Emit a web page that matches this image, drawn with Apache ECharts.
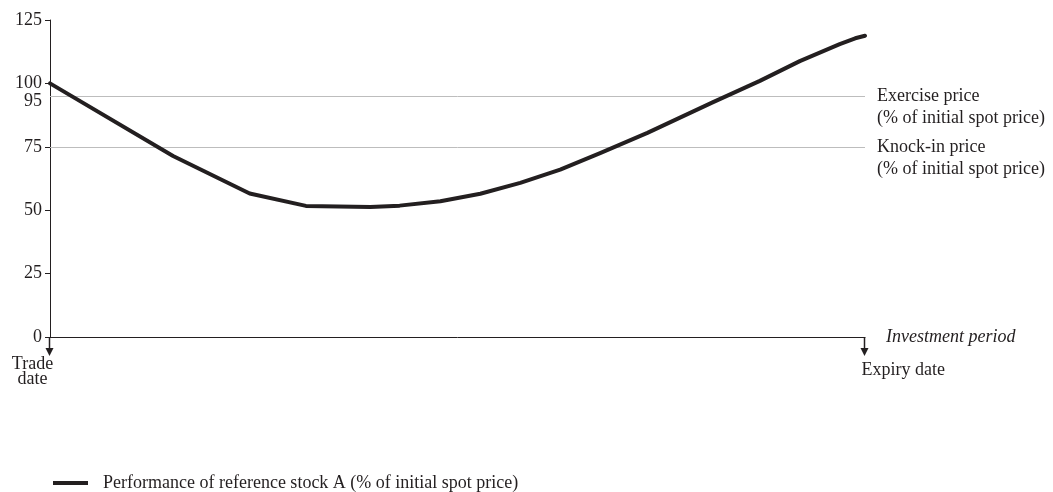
<!DOCTYPE html>
<html>
<head>
<meta charset="utf-8">
<script src="https://cdn.jsdelivr.net/npm/echarts@6/dist/echarts.min.js"></script>
<style>
html,body{margin:0;padding:0;background:#fff;}
#chart{width:1053px;height:492px;}
</style>
</head>
<body>
<div id="chart"></div>
<script>
// Investment period as fraction (0 = trade date, 1 = expiry date)
const periodT = [0, 0.151, 0.245, 0.314, 0.393, 0.429, 0.479, 0.528, 0.577, 0.626, 0.675, 0.733, 0.813, 0.871, 0.920, 0.969, 0.988, 1.0];
// Performance of reference stock A (% of initial spot price)
const stockPerf = [100, 71.4, 56.6, 51.7, 51.3, 51.8, 53.5, 56.5, 60.8, 66, 72.5, 80.5, 92.5, 101, 108.8, 115.5, 117.8, 118.8];
const yTickLabels = [0, 25, 50, 75, 95, 100, 125];
const yTickMarks = [0, 25, 50, 75, 100, 125];
const levelValues = [95, 75];
const levelNames = ['Exercise price\n(% of initial spot price)', 'Knock-in price\n(% of initial spot price)'];
const dateT = [0, 1];
const dateNames = ['Trade\ndate', 'Expiry date'];
const seriesName = 'Performance of reference stock A (% of initial spot price)';
const xAxisName = 'Investment period';

const FONT = 'Liberation Serif';
const INK = '#231f20';

const chart = echarts.init(document.getElementById('chart'), null, {renderer: 'canvas'});

const option = {
  animation: false,
  backgroundColor: '#fff',
  textStyle: {fontFamily: FONT, color: INK},
  grid: {left: 50, right: 188, top: 20, bottom: 155, containLabel: false},
  legend: {
    data: [seriesName],
    left: 48,
    top: 469,
    icon: 'rect',
    itemWidth: 35,
    itemHeight: 4,
    textStyle: {fontFamily: FONT, fontSize: 18, color: INK, padding: [0, 0, 0, 10], lineHeight: 18}
  },
  xAxis: {
    type: 'value',
    min: 0,
    max: 1,
    name: xAxisName,
    nameLocation: 'end',
    nameGap: 21,
    nameTextStyle: {fontFamily: FONT, fontSize: 18, fontStyle: 'italic', color: INK, verticalAlign: 'middle'},
    axisLine: {show: true, lineStyle: {color: INK, width: 1}},
    axisTick: {show: false},
    axisLabel: {show: false},
    splitLine: {show: false}
  },
  yAxis: {
    type: 'value',
    min: 0,
    max: 125,
    interval: 25,
    axisLine: {show: true, lineStyle: {color: INK, width: 1}},
    axisTick: {show: true, length: 5, customValues: yTickMarks, lineStyle: {color: INK}},
    axisLabel: {
      show: true, margin: 8, customValues: yTickLabels, fontFamily: FONT, fontSize: 18, color: INK,
      formatter: v => (v === 95 ? '{low|' + v + '}' : String(v)),
      rich: {low: {fontFamily: FONT, fontSize: 18, color: INK, padding: [10, 0, 0, 0]}}
    },
    splitLine: {show: false}
  },
  series: [{
    name: seriesName,
    type: 'line',
    data: periodT.map((t, i) => [t, stockPerf[i]]),
    showSymbol: false,
    symbol: 'none',
    smooth: false,
    color: INK,
    lineStyle: {color: INK, width: 4, join: 'round', cap: 'round'},
    markLine: {
      silent: true,
      symbol: ['none', 'none'],
      animation: false,
      lineStyle: {color: '#bdbdbd', width: 1, type: 'solid'},
      label: {
        show: true,
        position: 'end',
        distance: 12,
        fontFamily: FONT,
        fontSize: 18,
        color: INK,
        lineHeight: 22,
        align: 'left',
        verticalAlign: 'top',
        offset: [0, -11],
        formatter: p => p.name
      },
      data: levelValues.map((v, i) => ({yAxis: v, name: levelNames[i]}))
    },
    z: 5
  }]
};

chart.setOption(option);

// Date arrows and labels below the time axis
const graphics = [];
dateT.forEach((t, i) => {
  const p = chart.convertToPixel({xAxisIndex: 0, yAxisIndex: 0}, [t, 0]);
  const x = Math.round(p[0]) - 0.5;
  const y = p[1];
  graphics.push({
    type: 'line', silent: true,
    shape: {x1: x, y1: y, x2: x, y2: y + 13},
    style: {stroke: INK, lineWidth: 1.5}
  });
  graphics.push({
    type: 'polygon', silent: true,
    shape: {points: [[x - 4, y + 11], [x + 4, y + 11], [x, y + 19]]},
    style: {fill: INK}
  });
  if (i === 0) {
    graphics.push({
      type: 'text', silent: true,
      x: x - 17, y: y + 20,
      style: {text: dateNames[i], fontFamily: FONT, fontSize: 18, lineHeight: 15, fill: INK, align: 'center', verticalAlign: 'top'}
    });
  } else {
    graphics.push({
      type: 'text', silent: true,
      x: x - 3, y: y + 33,
      style: {text: dateNames[i], fontFamily: FONT, fontSize: 18, fill: INK, align: 'left', verticalAlign: 'middle'}
    });
  }
});
chart.setOption({graphic: graphics});
</script>
</body>
</html>
